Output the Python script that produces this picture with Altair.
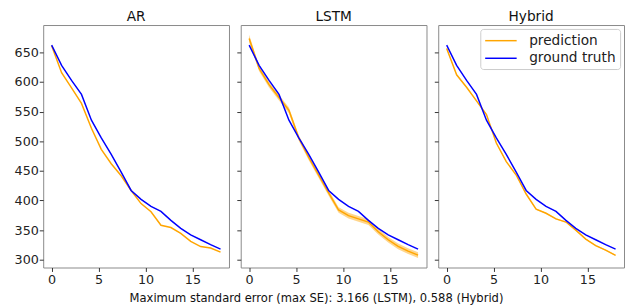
import altair as alt
import pandas as pd

# ---- data ----
x_vals = [0.0, 1.06, 2.12, 3.18, 4.24, 5.29, 6.35, 7.41, 8.47, 9.53,
          10.59, 11.65, 12.71, 13.76, 14.82, 15.88, 16.94, 18.0]
ground_truth = [662, 628, 602.6, 579, 535.5, 505.5, 478, 448, 417, 402,
                390, 381.7, 366.5, 353, 342, 333.8, 325.6, 318]
ar_pred = [661, 615.6, 590, 563.8, 522, 486.4, 462, 441.7, 417, 394.8,
           381, 358.3, 354.5, 344.7, 331, 322.3, 320, 313]
lstm_pred = [673.4, 622.7, 595.5, 573.7, 552, 505.5, 472.8, 442.8, 412.8, 384,
             374.6, 369, 363.7, 347.4, 333.8, 322.8, 314.7, 308]
lstm_se = [3.166, 2.4, 2.4, 2.4, 2.4, 2.4, 2.4, 2.4, 2.4, 2.4,
           2.4, 2.4, 2.4, 2.4, 2.4, 2.4, 2.4, 2.4]
hybrid_pred = [656.5, 612, 591, 568, 545, 497, 465.7, 443, 411, 385.5,
               378.5, 369, 363.7, 350, 335, 324, 316.3, 307.6]
hybrid_se = [0.588, 0.45, 0.45, 0.45, 0.45, 0.45, 0.45, 0.45, 0.45, 0.45,
             0.45, 0.45, 0.45, 0.45, 0.45, 0.45, 0.45, 0.45]
models = ["AR", "LSTM", "Hybrid"]
series_names = ["prediction", "ground truth"]
series_colors = ["#FFA500", "#0000FF"]
x_ticks = [0, 5, 10, 15]
y_ticks = [300, 350, 400, 450, 500, 550, 600, 650]
caption = "Maximum standard error (max SE):  3.166 (LSTM), 0.588 (Hybrid)"

FONT = "DejaVu Sans"
W, H = 190, 248
x_scale = alt.Scale(domain=[-0.9, 18.9], nice=False, zero=False)
y_scale = alt.Scale(domain=[287, 696], nice=False, zero=False)


def make_panel(model, pred, se, first, last):
    df = pd.DataFrame({
        "x": x_vals + x_vals,
        "value": pred + ground_truth,
        "series": [series_names[0]] * len(x_vals) + [series_names[1]] * len(x_vals),
    })
    x_enc = alt.X("x:Q", scale=x_scale,
                  axis=alt.Axis(values=x_ticks, title=None, grid=False, domain=False,
                                tickSize=4, tickColor="#333", labelFontSize=13,
                                labelColor="#222", labelFont=FONT, labelPadding=2))
    if first:
        y_axis = alt.Axis(values=y_ticks, title=None, grid=False, domain=False,
                          tickSize=4, tickColor="#333", labelFontSize=13,
                          labelColor="#222", labelFont=FONT, labelPadding=1,
                          minExtent=35, maxExtent=35)
    else:
        y_axis = alt.Axis(values=y_ticks, title=None, grid=False, domain=False,
                          tickSize=4, tickColor="#333", labels=False)
    if last:
        legend = alt.Legend(title=None, orient="top-right", offset=4,
                            fillColor="white", strokeColor="#cccccc",
                            cornerRadius=3, padding=4, rowPadding=3,
                            labelFontSize=14, labelFont=FONT, labelColor="#222",
                            symbolType="M-1,0L3.6,0", symbolSize=196,
                            symbolStrokeWidth=1.5, labelOffset=30)
    else:
        legend = None
    color = alt.Color("series:N", scale=alt.Scale(domain=series_names, range=series_colors),
                      legend=legend)

    layers = []
    if se is not None:
        band_df = pd.DataFrame({
            "x": x_vals,
            "lo": [p - 2 * s for p, s in zip(pred, se)],
            "hi": [p + 2 * s for p, s in zip(pred, se)],
        })
        band = alt.Chart(band_df).mark_area(color=series_colors[0], opacity=0.45).encode(
            x=x_enc, y=alt.Y("lo:Q", scale=y_scale, axis=y_axis), y2="hi:Q")
        layers.append(band)
    pred_line = alt.Chart(df).transform_filter(
        alt.datum.series == series_names[0]).mark_line(strokeWidth=1.5).encode(
        x=x_enc, y=alt.Y("value:Q", scale=y_scale, axis=y_axis), color=color)
    gt_line = alt.Chart(df).transform_filter(
        alt.datum.series == series_names[1]).mark_line(strokeWidth=1.5).encode(
        x=x_enc, y=alt.Y("value:Q", scale=y_scale, axis=y_axis), color=color)
    layers += [pred_line, gt_line]
    return alt.layer(*layers).properties(
        width=W, height=H,
        title=alt.TitleParams(model, fontSize=14, font=FONT, fontWeight="normal",
                              color="#111", offset=1))


panels = [
    make_panel(models[0], ar_pred, None, True, False),
    make_panel(models[1], lstm_pred, lstm_se, False, False),
    make_panel(models[2], hybrid_pred, hybrid_se, False, True),
]

chart = alt.hconcat(*panels, spacing=6).resolve_legend(color="independent").properties(
    title=alt.TitleParams(caption, orient="bottom", anchor="middle", fontSize=11.8,
                          font=FONT, fontWeight="normal", color="#111", offset=7),
    padding={"left": 0, "top": -2, "right": 0, "bottom": 0},
).configure_view(stroke="#888888", strokeWidth=1)

chart.save("out.html", embed_options={"renderer": "svg", "actions": False})
